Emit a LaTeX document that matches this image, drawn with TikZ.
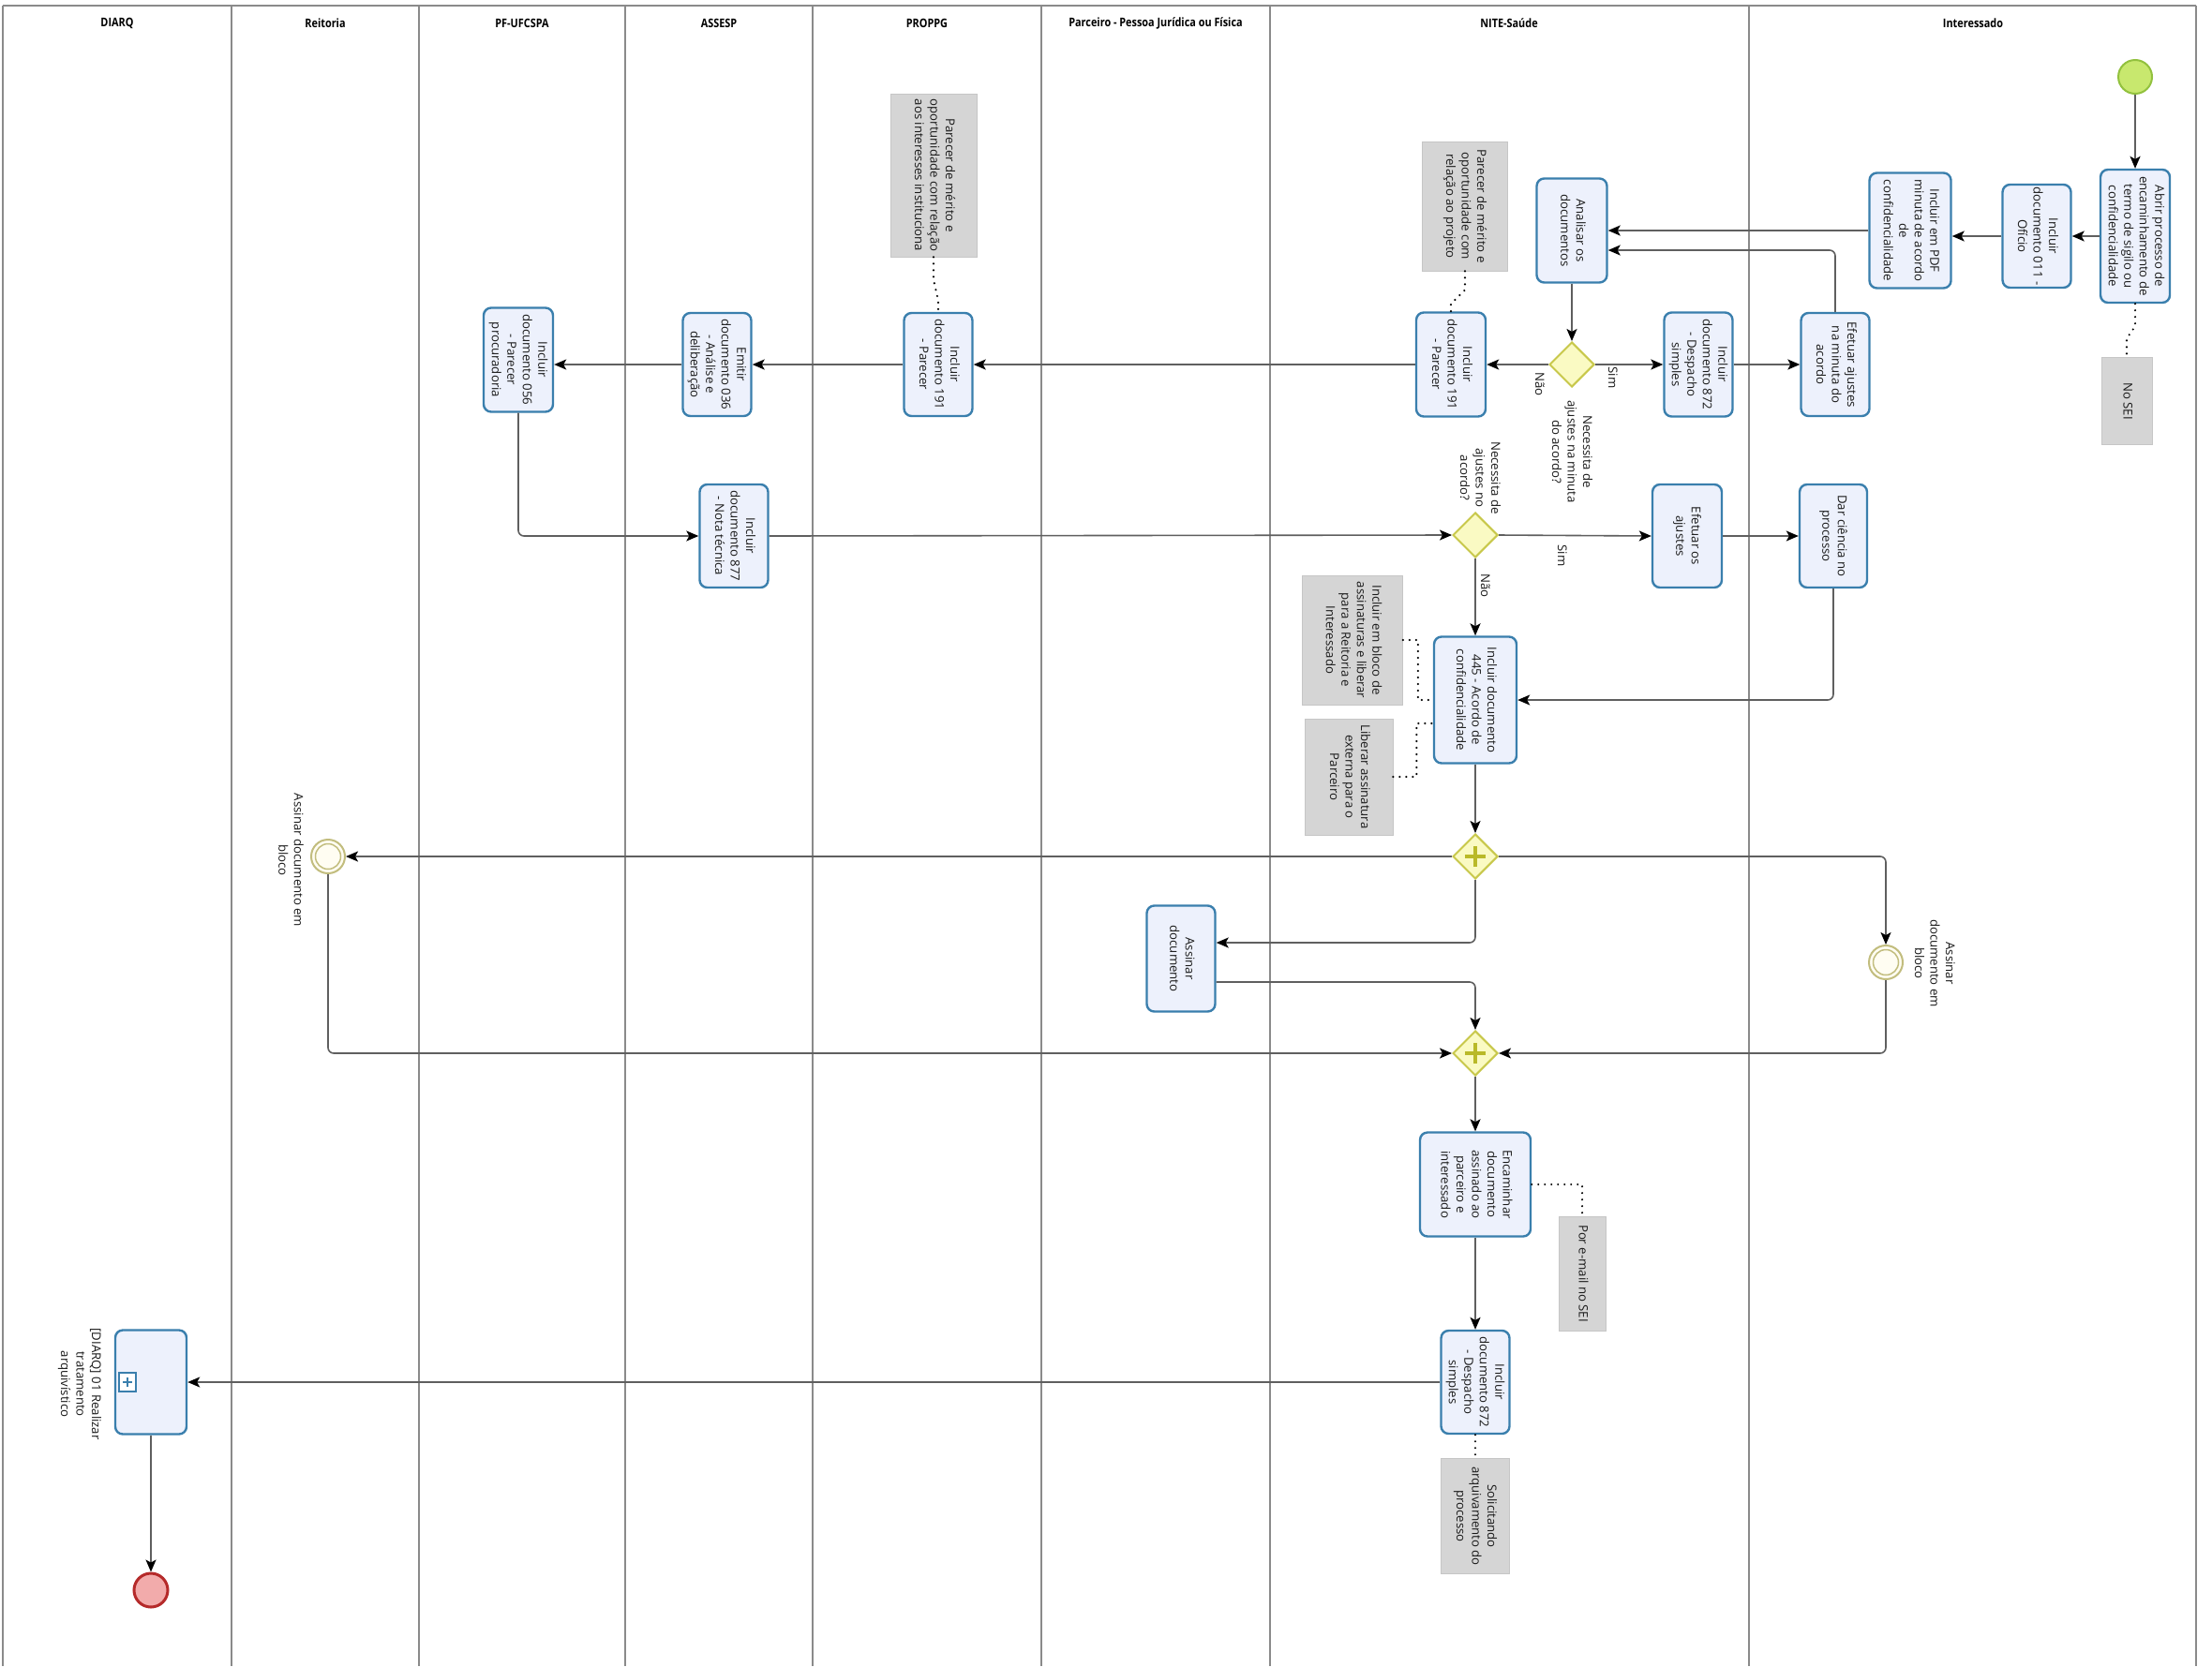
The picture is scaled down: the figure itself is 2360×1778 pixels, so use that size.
\documentclass[tikz,border=0pt]{standalone}
\usepackage{fontspec}
\usepackage{graphicx}
\setmainfont{Open Sans}
\newfontfamily\hdrfont[FakeStretch=0.85]{Open Sans}
\usetikzlibrary{arrows.meta,shapes.geometric,calc}
\definecolor{taskfill}{HTML}{EDF1FC}
\definecolor{taskborder}{HTML}{3A7FAD}
\definecolor{gwfill}{HTML}{FAFAC3}
\definecolor{gwborder}{HTML}{C8C84B}
\definecolor{plusc}{HTML}{B9B928}
\definecolor{stfill}{HTML}{C8E86E}
\definecolor{stborder}{HTML}{92C13E}
\definecolor{enfill}{HTML}{F2ABAB}
\definecolor{enborder}{HTML}{B52A2A}
\definecolor{infill}{HTML}{FFFDF2}
\definecolor{inborder}{HTML}{C2BD7E}
\definecolor{annfill}{HTML}{D5D5D5}
\definecolor{annborder}{HTML}{C6C6C6}
\definecolor{linec}{HTML}{5F5F5F}
\definecolor{lanec}{HTML}{8A8A8A}
\definecolor{txt}{HTML}{1A1A1A}
\newcommand{\rt}[1]{\rotatebox{-90}{\begin{tabular}{@{}c@{}}#1\end{tabular}}}
\begin{document}
\begin{tikzpicture}[x=1pt,y=-1pt,
  every node/.style={font=\fontsize{13.2}{16.5}\selectfont, text=txt},
  lane/.style={draw=lanec, line width=2pt},
  hdr/.style={font=\hdrfont\bfseries\fontsize{12.8}{15}\selectfont, text=black},
  task/.style={draw=taskborder, line width=2.4pt, fill=taskfill, rounded corners=8pt, inner sep=0pt},
  annot/.style={draw=annborder, line width=0.8pt, fill=annfill, inner sep=0pt},
  gway/.style={diamond, aspect=1, draw=gwborder, fill=gwfill, line width=2pt, minimum width=48pt, minimum height=48pt, inner sep=0pt},
  pgway/.style={gway, path picture={
     \draw[plusc, line width=4.5pt] ([xshift=-11pt]path picture bounding box.center) -- ([xshift=11pt]path picture bounding box.center);
     \draw[plusc, line width=4.5pt] ([yshift=-11pt]path picture bounding box.center) -- ([yshift=11pt]path picture bounding box.center);}},
  startev/.style={circle, draw=stborder, fill=stfill, line width=2pt, minimum size=36pt, inner sep=0pt},
  endev/.style={circle, draw=enborder, fill=enfill, line width=3pt, minimum size=36pt, inner sep=0pt},
  interev/.style={circle, draw=inborder, fill=infill, line width=2pt, minimum size=36pt, inner sep=0pt,
     path picture={\draw[inborder, line width=1.5pt] (path picture bounding box.center) circle (13.5pt);}},
  lbl/.style={inner sep=0pt},
  flow/.style={draw=linec, line width=1.6pt, rounded corners=6pt, -{Stealth[length=13pt,width=11pt,inset=3pt,color=black]}},
  assoc/.style={draw=black, line width=2.4pt, line cap=round, dash pattern=on 0pt off 7pt},
]
\useasboundingbox (0,0) rectangle (2360,1778);
\fill[white] (0,0) rectangle (2360,1778);

% lanes
\foreach \x in {3,247,447,667,867,1111,1355,1866,2343} \draw[lane] (\x,6) -- (\x,1778);
\draw[lane, line width=2.6pt] (3,6) -- (2343,6);

% headers
\node[hdr] (h1) at (125,25) {DIARQ};
\node[hdr] (h2) at (347,25) {Reitoria};
\node[hdr] (h3) at (557,25) {PF-UFCSPA};
\node[hdr] (h4) at (767,25) {ASSESP};
\node[hdr] (h5) at (989,25) {PROPPG};
\node[hdr] (h6) at (1233,25) {Parceiro - Pessoa Jurídica ou Física};
\node[hdr] (h7) at (1610,25) {NITE-Saúde};
\node[hdr] (h8) at (2105,25) {Interessado};

% Interessado
\node[startev] (start) at (2278,82) {};
\node[task, minimum width=74pt, minimum height=142pt] (abrir) at (2278,252) {\rt{Abrir processo de\\encaminhamento de\\termo de sigilo ou\\confidencialidade}};
\node[annot, minimum width=54pt, minimum height=93pt] (nosei) at (2269,428) {\rt{No SEI}};
\node[task, minimum width=73pt, minimum height=110pt] (oficio) at (2173,252) {\rt{Incluir\\documento 011 -\\Ofício}};
\node[task, minimum width=87pt, minimum height=123pt] (pdf) at (2038,246) {\rt{Incluir em PDF\\minuta de acordo\\de\\confidencialidade}};
\node[task, minimum width=73pt, minimum height=110pt] (efmin) at (1958,389) {\rt{Efetuar ajustes\\na minuta do\\acordo}};
\node[task, minimum width=72pt, minimum height=110pt] (dar) at (1956,572) {\rt{Dar ciência no\\processo}};
\node[interev] (evI) at (2012,1027) {};
\node[lbl] (evIl) at (2063,1028) {\rt{Assinar\\documento em\\bloco}};

% NITE-Saude
\node[task, minimum width=75pt, minimum height=111pt] (analisar) at (1677,246) {\rt{Analisar os\\documentos}};
\node[annot, minimum width=91pt, minimum height=138pt] (annP) at (1563,220) {\rt{Parecer de mérito e\\oportunidade com\\relação ao projeto}};
\node[gway] (gw1) at (1677,389) {};
\node[lbl] (gw1l) at (1676,482) {\rt{Necessita de\\ajustes na minuta\\do acordo?}};
\node[lbl] (sim1) at (1721,403) {\rotatebox{-90}{Sim}};
\node[lbl] (nao1) at (1643,410) {\rotatebox{-90}{Não}};
\node[task, minimum width=73pt, minimum height=111pt] (desp1) at (1812,389) {\rt{Incluir\\documento 872\\- Despacho\\simples}};
\node[task, minimum width=74pt, minimum height=111pt] (nite191) at (1548,389) {\rt{Incluir\\documento 191\\- Parecer}};
\node[gway] (gw2) at (1574,571) {};
\node[lbl] (gw2l) at (1578,510) {\rt{Necessita de\\ajustes no\\acordo?}};
\node[lbl] (sim2) at (1667,593) {\rotatebox{-90}{Sim}};
\node[lbl] (nao2) at (1585,625) {\rotatebox{-90}{Não}};
\node[task, minimum width=74pt, minimum height=110pt] (efaj) at (1800,572) {\rt{Efetuar os\\ajustes}};
\node[task, minimum width=88pt, minimum height=135pt] (inc445) at (1574,747) {\rt{Incluir documento\\445 - Acordo de\\confidencialidade}};
\node[annot, minimum width=107pt, minimum height=138pt] (annB) at (1443,683) {\rt{Incluir em bloco de\\assinaturas e liberar\\para a Reitoria e\\Interessado}};
\node[annot, minimum width=94pt, minimum height=124pt] (annL) at (1439,829) {\rt{Liberar assinatura\\externa para o\\Parceiro}};
\node[pgway] (pg1) at (1574,914) {};
\node[pgway] (pg2) at (1574,1124) {};
\node[task, minimum width=118pt, minimum height=111pt] (enc) at (1574,1264) {\rt{Encaminhar\\documento\\assinado ao\\parceiro e\\interessado}};
\node[annot, minimum width=50pt, minimum height=122pt] (annE) at (1688,1359) {\rt{Por e-mail no SEI}};
\node[task, minimum width=73pt, minimum height=110pt] (desp2) at (1574,1475) {\rt{Incluir\\documento 872\\- Despacho\\simples}};
\node[annot, minimum width=73pt, minimum height=123pt] (annA) at (1574,1618) {\rt{Solicitando\\arquivamento do\\processo}};

% Parceiro
\node[task, minimum width=73pt, minimum height=113pt] (assinar) at (1260,1023) {\rt{Assinar\\documento}};

% PROPPG
\node[task, minimum width=73pt, minimum height=110pt] (proppg) at (1001,389) {\rt{Incluir\\documento 191\\- Parecer}};
\node[annot, minimum width=92pt, minimum height=174pt] (annI) at (996,187) {\rt{Parecer de mérito e\\oportunidade com relação\\aos interesses instituciona}};

% ASSESP
\node[task, minimum width=73pt, minimum height=110pt] (emitir) at (765,389) {\rt{Emitir\\documento 036\\- Análise e\\deliberação}};
\node[task, minimum width=73pt, minimum height=110pt] (nota) at (783,572) {\rt{Incluir\\documento 877\\- Nota técnica}};

% PF-UFCSPA
\node[task, minimum width=74pt, minimum height=111pt] (pf056) at (553,384) {\rt{Incluir\\documento 056\\- Parecer\\procuradoria}};

% Reitoria
\node[interev] (evR) at (350,914) {};
\node[lbl] (evRl) at (309,918) {\rt{Assinar documento em\\bloco}};

% DIARQ
\node[task, minimum width=76pt, minimum height=111pt] (sub) at (161,1475) {};
\draw[taskborder, fill=white, line width=1.4pt] (127,1465) rectangle (145,1485);
\draw[taskborder, line width=2.4pt] (131,1475) -- (141,1475) (136,1470) -- (136,1480);
\node[lbl] (subl) at (85,1477) {\rt{[DIARQ] 01 Realizar\\tratamento\\arquivístico}};
\node[endev] (endE) at (161,1697) {};

% sequence flows
\draw[flow] (start.south) -- (abrir.north);
\draw[flow] (abrir.west) -- (oficio.east);
\draw[flow] (oficio.west) -- (oficio.west -| pdf.east);
\draw[flow] (pdf.west) -- (pdf.west -| analisar.east);
\draw[flow] (efmin.north) |- ([yshift=-21pt]analisar.east);
\draw[flow] (analisar.south) -- (gw1.north);
\draw[flow] (gw1.east) -- (desp1.west);
\draw[flow] (gw1.west) -- (nite191.east);
\draw[flow] (desp1.east) -- (efmin.west);
\draw[flow] (nite191.west) -- (proppg.east);
\draw[flow] (proppg.west) -- (emitir.east);
\draw[flow] (emitir.west) -- (emitir.west -| pf056.east);
\draw[flow] (pf056.south) |- (nota.west);
\draw[flow] (nota.east) -- (gw2.west);
\draw[flow] (gw2.east) -- (efaj.west);
\draw[flow] (efaj.east) -- (dar.west);
\draw[flow] (dar.south) |- (inc445.east);
\draw[flow] (gw2.south) -- (inc445.north);
\draw[flow] (inc445.south) -- (pg1.north);
\draw[flow] (pg1.west) -- (evR.east);
\draw[flow] (pg1.east) -| (evI.north);
\draw[flow] (pg1.south) |- ([yshift=17pt]assinar.east);
\draw[flow] ([yshift=-25pt]assinar.east) -| (pg2.north);
\draw[flow] (evR.south) |- (pg2.west);
\draw[flow] (evI.south) |- (pg2.east);
\draw[flow] (pg2.south) -- (enc.north);
\draw[flow] (enc.south) -- (desp2.north);
\draw[flow] (desp2.west) -- (sub.east);
\draw[flow] (sub.south) -- (endE.north);

% associations
\draw[assoc] (abrir.south) -- ++(0,24) -- ++(-9,13) -- (nosei.north);
\draw[assoc] (annP.south) -- ++(0,20) -- ([yshift=8pt]nite191.north) -- (nite191.north);
\draw[assoc] (annI.south) -- ++(0,24) -- ([yshift=12pt]proppg.north) -- (proppg.north);
\draw[assoc] (annB.east) -- ++(16,0) |- (inc445.west);
\draw[assoc] (annL.east) -- ++(25,0) |- ([yshift=-25pt]inc445.west);
\draw[assoc] (enc.east) -| (annE.north);
\draw[assoc] (desp2.south) -- (annA.north);
\end{tikzpicture}
\end{document}
